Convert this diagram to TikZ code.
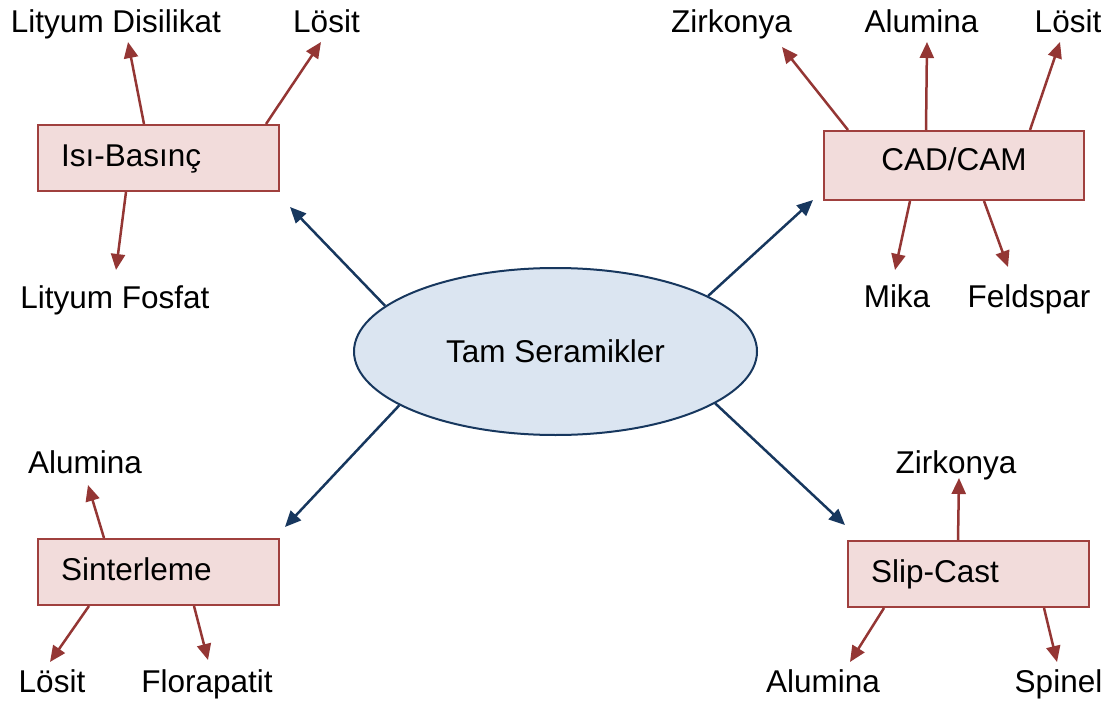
\documentclass[tikz,border=0pt]{standalone}
\usepackage{fontspec}
\setmainfont{Liberation Sans}
\usetikzlibrary{arrows.meta,shapes.geometric}
\definecolor{redline}{RGB}{148,54,52}
\definecolor{boxfill}{RGB}{242,220,219}
\definecolor{boxdraw}{RGB}{160,64,62}
\definecolor{blueline}{RGB}{23,55,94}
\definecolor{ellfill}{RGB}{219,229,241}
\tikzset{
  lab/.style={anchor=base, inner sep=0pt, font=\fontsize{31.5}{36}\selectfont},
  procbox/.style={draw=boxdraw, fill=boxfill, line width=2pt, minimum height=66pt,
    font=\fontsize{31.5}{36}\selectfont, text height=22.5pt, text depth=6pt},
  leftbox/.style={procbox, align=left, text width=195pt, inner xsep=23pt},
  redarrow/.style={draw=redline, line width=2.5pt, -{Triangle[length=16pt,width=14pt]}},
  bluearrow/.style={draw=blueline, line width=2.5pt, -{Triangle[length=16pt,width=14pt]}},
}
\begin{document}
\begin{tikzpicture}[x=1pt,y=-1pt]
\useasboundingbox (0,0) rectangle (1115,703);

% central ellipse
\node[ellipse, draw=blueline, fill=ellfill, line width=2pt, minimum width=403pt,
      minimum height=167pt, inner sep=0pt, font=\fontsize{31.5}{36}\selectfont]
      (ell) at (555.5,351.5) {Tam Seramikler};

% process boxes
\node[leftbox] (ib) at (158.5,158) {Isı-Basınç};
\node[procbox, minimum width=260pt, minimum height=69pt, text depth=12pt, align=center] (cc) at (954,165.5) {CAD/CAM};
\node[leftbox] (si) at (158.5,572) {Sinterleme};
\node[leftbox] (sc) at (968.5,574) {Slip-Cast};

% labels
\node[lab] (l1) at (116,33) {Lityum Disilikat};
\node[lab] (l2) at (326.5,33) {Lösit};
\node[lab] (l3) at (115,308) {Lityum Fosfat};
\node[lab] (l4) at (731.5,33) {Zirkonya};
\node[lab] (l5) at (921.5,33) {Alumina};
\node[lab] (l6) at (1068,33) {Lösit};
\node[lab] (l7) at (897,307) {Mika};
\node[lab] (l8) at (1029,307) {Feldspar};
\node[lab] (l9) at (85,473) {Alumina};
\node[lab] (l10) at (52,692) {Lösit};
\node[lab] (l11) at (207,692) {Florapatit};
\node[lab] (l12) at (956,473) {Zirkonya};
\node[lab] (l13) at (823,692) {Alumina};
\node[lab] (l14) at (1058.5,692) {Spinel};

% arrow tip coordinates
\coordinate (t1) at (128,42);
\coordinate (t2) at (321,42);
\coordinate (t3) at (116,270);
\coordinate (t4) at (782,47);
\coordinate (t5) at (927,42);
\coordinate (t6) at (1060,42);
\coordinate (t7) at (895,270);
\coordinate (t8) at (1008,267);
\coordinate (t9) at (88,485);
\coordinate (t10) at (50,662);
\coordinate (t11) at (208,660);
\coordinate (t12) at (959,478);
\coordinate (t13) at (850,662);
\coordinate (t14) at (1057,662);

\coordinate (b1) at (290,207);
\coordinate (b2) at (813,200);
\coordinate (b3) at (285,527);
\coordinate (b4) at (845,525);

% blue arrows
\draw[bluearrow] (ell.165.4) -- (b1);
\draw[bluearrow] (ell.20.5) -- (b2);
\draw[bluearrow] (ell.199.3) -- (b3);
\draw[bluearrow] (ell.342.1) -- (b4);

% red arrows
\draw[redarrow] ([xshift=107pt]ib.north west) -- (t1);
\draw[redarrow] ([xshift=229pt]ib.north west) -- (t2);
\draw[redarrow] ([xshift=89pt]ib.south west) -- (t3);

\draw[redarrow] ([xshift=25pt]cc.north west) -- (t4);
\draw[redarrow] ([xshift=103pt]cc.north west) -- (t5);
\draw[redarrow] ([xshift=207pt]cc.north west) -- (t6);
\draw[redarrow] ([xshift=87pt]cc.south west) -- (t7);
\draw[redarrow] ([xshift=161pt]cc.south west) -- (t8);

\draw[redarrow] ([xshift=67pt]si.north west) -- (t9);
\draw[redarrow] ([xshift=52pt]si.south west) -- (t10);
\draw[redarrow] ([xshift=157pt]si.south west) -- (t11);

\draw[redarrow] ([xshift=111pt]sc.north west) -- (t12);
\draw[redarrow] ([xshift=37pt]sc.south west) -- (t13);
\draw[redarrow] ([xshift=197pt]sc.south west) -- (t14);
\end{tikzpicture}
\end{document}
